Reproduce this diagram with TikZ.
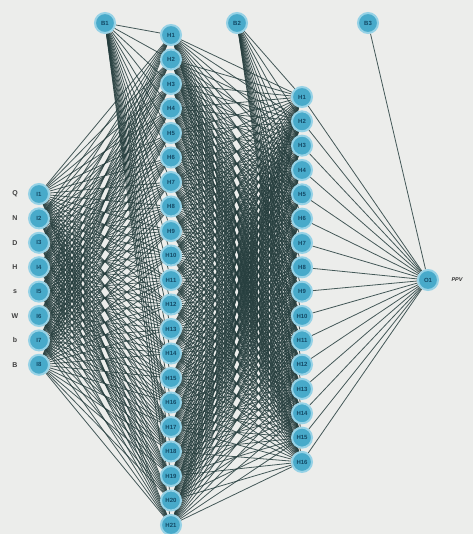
\documentclass[tikz,border=0pt]{standalone}
\usepackage{fontspec}
\setsansfont{Liberation Sans}
\usetikzlibrary{calc}
\pgfdeclarelayer{bglayer}
\pgfdeclarelayer{edgelayer}
\pgfsetlayers{bglayer,edgelayer,main}
\definecolor{bgc}{RGB}{236,237,235}
\definecolor{edgec}{RGB}{38,62,62}
\definecolor{nodec}{RGB}{72,170,202}
\definecolor{haloc}{RGB}{150,210,230}
\definecolor{txtc}{RGB}{18,72,100}
\tikzset{
  neuron/.style={circle, fill=nodec, draw=haloc, line width=2pt, minimum size=20pt, inner sep=0pt,
     font=\fontsize{6}{7}\sffamily\bfseries, text=txtc},
  link/.style={draw=edgec, line width=0.8pt, opacity=0.85},
  inlabel/.style={font=\fontsize{7}{8}\sffamily\bfseries, text=black!75},
}
\begin{document}
\begin{tikzpicture}[x=1pt,y=-1pt]
\begin{pgfonlayer}{bglayer}
\fill[bgc] (0,0) rectangle (473,534);
\end{pgfonlayer}
\useasboundingbox (0,0) rectangle (473,534);
% input layer
\foreach \i/\lab in {1/Q,2/N,3/D,4/H,5/s,6/W,7/b,8/B}{
  \node[neuron] (I\i) at (39,{194+24.4*(\i-1)}) {I\i};
  \node[inlabel] (L\i) at (15,{194+24.4*(\i-1)}) {\lab};
}
% biases
\node[neuron] (B1) at (105,23) {B1};
\node[neuron] (B2) at (237,23) {B2};
\node[neuron] (B3) at (368,23) {B3};
% hidden layer 1
\foreach \j in {1,...,21}{
  \node[neuron] (HA\j) at (171,{35+24.5*(\j-1)}) {H\j};
}
% hidden layer 2
\foreach \k in {1,...,16}{
  \node[neuron] (HB\k) at (302,{97+24.33*(\k-1)}) {H\k};
}
% output
\node[neuron] (O1) at (428,280) {O1};
\node[font=\fontsize{5.5}{6}\sffamily\bfseries\itshape, text=black!80] (PPV) at (457,280) {PPV};
% connections
\begin{pgfonlayer}{edgelayer}
\foreach \j in {1,...,21}{
  \foreach \i in {1,...,8}{
    \draw[link] (I\i) -- (HA\j);
  }
  \draw[link] (B1) -- (HA\j);
  \foreach \k in {1,...,16}{
    \draw[link] (HA\j) -- (HB\k);
  }
}
\foreach \k in {1,...,16}{
  \draw[link] (B2) -- (HB\k);
  \draw[link] (HB\k) -- (O1);
}
\draw[link] (B3) -- (O1);
\end{pgfonlayer}
\end{tikzpicture}
\end{document}
